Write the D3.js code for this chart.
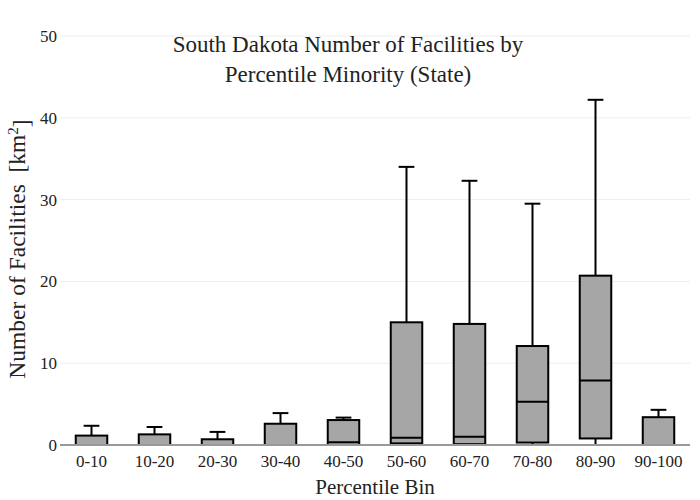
<!DOCTYPE html>
<html>
<head>
<meta charset="utf-8">
<script src="https://cdn.jsdelivr.net/npm/d3@7"></script>
<style>
  body { margin: 0; background: #fff; }
  text { font-family: "Liberation Serif", "Times New Roman", serif; fill: #222; }
</style>
</head>
<body>
<script>
// percentile bins and box stats
var bins = ["0-10", "10-20", "20-30", "30-40", "40-50", "50-60", "60-70", "70-80", "80-90", "90-100"];
var lowerFence = [0, 0, 0, 0, 0, 0, 0, 0, 0, 0];
var q1 =      [0, 0, 0, 0, 0, 0.2, 0.1, 0.3, 0.8, 0];
var median =  [0, 0, 0, 0, 0.35, 0.9, 1.0, 5.3, 7.9, 0];
var q3 =      [1.15, 1.3, 0.7, 2.6, 3.05, 15.0, 14.8, 12.1, 20.7, 3.4];
var upperFence = [2.35, 2.2, 1.6, 3.9, 3.35, 34.0, 32.3, 29.5, 42.2, 4.3];
var yTicks = [0, 10, 20, 30, 40, 50];

var width = 700, height = 500;
var plotLeft = 60, plotRight = 690, plotTop = 36, plotBottom = 445;

var svg = d3.select("body").append("svg")
  .attr("width", width)
  .attr("height", height);

var x = d3.scaleBand().domain(bins).range([plotLeft, plotRight]).padding(0);
var y = d3.scaleLinear().domain([0, 50]).range([plotBottom, plotTop]);

// grid lines
svg.selectAll(".grid")
  .data(yTicks.filter(function (d) { return d > 0; }))
  .enter().append("line")
  .attr("x1", plotLeft).attr("x2", plotRight)
  .attr("y1", function (d) { return y(d); })
  .attr("y2", function (d) { return y(d); })
  .attr("stroke", "#eeeeee").attr("stroke-width", 1);

// y tick labels
svg.selectAll(".ytick")
  .data(yTicks)
  .enter().append("text")
  .attr("x", plotLeft - 3)
  .attr("y", function (d) { return y(d); })
  .attr("dy", "0.35em")
  .attr("text-anchor", "end")
  .style("font-size", "17px")
  .text(function (d) { return d; });

// x tick labels
svg.selectAll(".xtick")
  .data(bins)
  .enter().append("text")
  .attr("x", function (d) { return x(d) + x.bandwidth() / 2; })
  .attr("y", plotBottom + 22)
  .attr("text-anchor", "middle")
  .style("font-size", "17px")
  .text(function (d) { return d; });

var boxW = x.bandwidth() * 0.5;
var capW = boxW * 0.5;

var g = svg.selectAll(".box")
  .data(bins)
  .enter().append("g")
  .attr("transform", function (d) { return "translate(" + (x(d) + x.bandwidth() / 2) + ",0)"; });

// whiskers
g.append("line")
  .attr("x1", 0).attr("x2", 0)
  .attr("y1", function (d, i) { return y(q3[i]); })
  .attr("y2", function (d, i) { return y(upperFence[i]); })
  .attr("stroke", "#000").attr("stroke-width", 2);
g.append("line")
  .attr("x1", 0).attr("x2", 0)
  .attr("y1", function (d, i) { return y(q1[i]); })
  .attr("y2", function (d, i) { return y(lowerFence[i]); })
  .attr("stroke", "#000").attr("stroke-width", 2);
g.append("line")
  .attr("x1", -capW / 2).attr("x2", capW / 2)
  .attr("y1", function (d, i) { return y(upperFence[i]); })
  .attr("y2", function (d, i) { return y(upperFence[i]); })
  .attr("stroke", "#000").attr("stroke-width", 2);
g.append("line")
  .attr("x1", -capW / 2).attr("x2", capW / 2)
  .attr("y1", function (d, i) { return y(lowerFence[i]); })
  .attr("y2", function (d, i) { return y(lowerFence[i]); })
  .attr("stroke", "#000").attr("stroke-width", 2);

// boxes
g.append("rect")
  .attr("x", -boxW / 2)
  .attr("width", boxW)
  .attr("y", function (d, i) { return y(q3[i]); })
  .attr("height", function (d, i) { return y(q1[i]) - y(q3[i]); })
  .attr("fill", "#a6a6a6")
  .attr("stroke", "#000").attr("stroke-width", 2);

// medians
g.append("line")
  .attr("x1", -boxW / 2).attr("x2", boxW / 2)
  .attr("y1", function (d, i) { return y(median[i]); })
  .attr("y2", function (d, i) { return y(median[i]); })
  .attr("stroke", "#000").attr("stroke-width", 2);

// zero line
svg.append("line")
  .attr("x1", plotLeft).attr("x2", plotRight)
  .attr("y1", y(0)).attr("y2", y(0))
  .attr("stroke", "#999").attr("stroke-width", 2);

// title
var title = svg.append("text")
  .attr("text-anchor", "middle")
  .style("font-size", "23px");
title.append("tspan").attr("x", 348).attr("y", 52).text("South Dakota Number of Facilities by");
title.append("tspan").attr("x", 348).attr("y", 82).text("Percentile Minority (State)");

// axis titles
svg.append("text")
  .attr("x", 375)
  .attr("y", 494)
  .attr("text-anchor", "middle")
  .style("font-size", "21px")
  .text("Percentile Bin");

var yt = svg.append("text")
  .attr("transform", "translate(25,249) rotate(-90)")
  .attr("text-anchor", "middle")
  .style("font-size", "23.5px")
  .style("white-space", "pre");
yt.append("tspan").text("Number of Facilities  [km");
yt.append("tspan").attr("dy", "-0.5em").style("font-size", "15px").text("2");
yt.append("tspan").attr("dy", "0.5em").text("]");
</script>
</body>
</html>
